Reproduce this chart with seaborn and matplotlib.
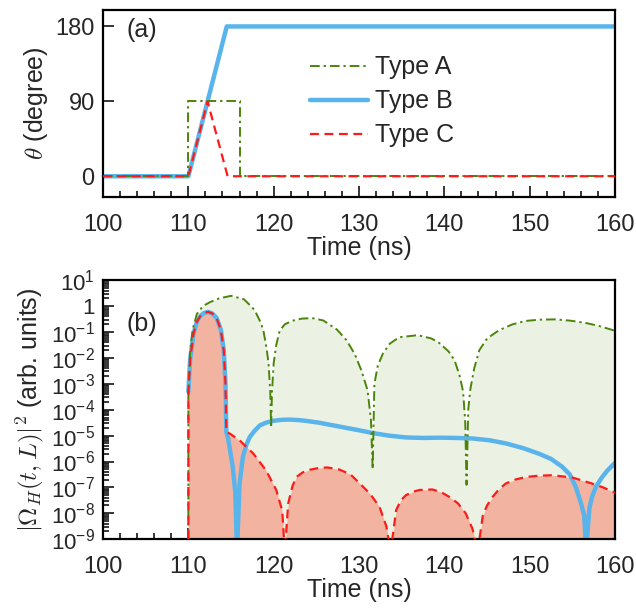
import numpy as np
import matplotlib
matplotlib.use("Agg")
import matplotlib.pyplot as plt
import matplotlib.ticker as mticker
import seaborn as sns

# ---------------- panel (a): mixing angle ----------------
tA = [100, 110, 110, 116, 116, 160]
thetaA = [0, 0, 90, 90, 0, 0]
tB = [100, 110, 114.5, 160]
thetaB = [0, 0, 180, 180]
tC = [100, 110, 112.25, 114.6, 160]
thetaC = [0, 0, 90, 0, 0]

# ---------------- panel (b): log10 |Omega_H|^2 ----------------
tA_b = [110.0, 110.0, 110.2, 110.5, 111.0, 111.7, 112.5, 113.6, 115.0, 116.5,
        117.5, 117.9, 118.5, 118.8, 119.2, 119.4, 119.6, 119.7, 119.8, 120.0,
        120.3, 120.7, 121.3, 122.2, 123.3, 124.5, 125.8, 127.4, 128.5, 129.5,
        130.3, 131.0, 131.4, 131.6, 131.8, 132.2, 132.8, 133.6, 134.7, 136.9,
        138.5, 139.4, 140.5, 141.2, 141.8, 142.2, 142.45, 142.6, 142.8, 143.05,
        143.5, 144.1, 145.0, 146.4, 148.0, 149.5, 151.2, 153.0, 154.8, 156.6,
        158.2, 160.0]
logA_b = [-9.0, -3.5, -1.8, -0.9, -0.3, 0.0, 0.15, 0.3, 0.40, 0.27,
          -0.05, -0.24, -0.65, -0.95, -1.7, -2.23, -3.3, -4.7, -3.3, -2.2,
          -1.5, -0.95, -0.7, -0.56, -0.48, -0.46, -0.55, -0.9, -1.3, -1.85,
          -2.5, -3.25, -4.4, -6.3, -3.0, -2.3, -1.83, -1.45, -1.2, -1.12,
          -1.25, -1.42, -1.75, -2.09, -2.7, -3.3, -4.5, -6.9, -4.0, -3.2,
          -2.4, -1.7, -1.25, -0.93, -0.7, -0.57, -0.52, -0.51, -0.56, -0.65,
          -0.77, -0.95]

tB_b = [110.0, 110.2, 110.6, 111.0, 111.4, 111.8, 112.3, 112.8, 113.3, 113.8,
        114.15, 114.35, 114.45, 114.65, 115.2, 115.5, 115.7, 116.0, 116.4, 116.8,
        117.2, 117.8, 118.4, 119.1, 119.9, 120.9, 121.9, 122.9, 123.8, 125.3,
        126.9, 128.5, 130.1, 131.6, 133.5, 135.5, 137.5, 139.4, 141.4, 143.3,
        145.3, 147.2, 149.2, 151.1, 152.5, 153.8, 154.7, 155.4, 156.0, 156.4,
        156.6, 157.0, 157.3, 157.8, 158.5, 159.1, 160.0]
logB_b = [-3.3, -2.09, -1.06, -0.6, -0.38, -0.27, -0.22, -0.28, -0.45, -0.9,
          -1.7, -3.0, -4.86, -5.1, -6.2, -7.2, -9.5, -6.85, -5.8, -5.35,
          -5.05, -4.8, -4.6, -4.5, -4.43, -4.39, -4.38, -4.4, -4.43, -4.5,
          -4.6, -4.7, -4.8, -4.9, -5.0, -5.07, -5.09, -5.08, -5.09, -5.11,
          -5.18, -5.3, -5.48, -5.7, -5.9, -6.2, -6.5, -6.98, -7.6, -8.1,
          -9.5, -7.8, -7.37, -6.95, -6.6, -6.35, -6.05]

tC_b = [110.0, 110.0, 110.2, 110.6, 111.0, 111.4, 111.8, 112.3, 112.8, 113.3,
        113.8, 114.15, 114.35, 114.45, 114.85, 116.0, 117.6, 119.1, 120.3, 121.0,
        121.3, 121.7, 122.2, 122.65, 123.4, 124.2, 125.3, 126.3, 127.7, 129.0,
        130.1, 131.3, 132.4, 133.2, 133.7, 134.35, 134.9, 135.5, 136.3, 137.1,
        138.6, 139.6, 140.6, 141.6, 142.5, 143.3, 143.9, 144.5, 145.0, 145.65,
        146.4, 147.2, 148.3, 149.5, 151.0, 152.65, 155.0, 157.3, 158.6, 160.0]
logC_b = [-9.0, -3.3, -2.09, -1.06, -0.6, -0.38, -0.27, -0.22, -0.28, -0.45,
          -0.9, -1.7, -3.0, -4.86, -4.92, -5.18, -5.69, -6.34, -7.1, -7.9,
          -9.5, -7.62, -6.95, -6.6, -6.42, -6.32, -6.25, -6.23, -6.31, -6.5,
          -6.85, -7.25, -7.75, -8.5, -9.5, -7.88, -7.5, -7.3, -7.17, -7.1,
          -7.08, -7.18, -7.37, -7.62, -8.0, -8.6, -9.5, -8.1, -7.7, -7.37,
          -7.07, -6.85, -6.7, -6.6, -6.55, -6.53, -6.62, -6.85, -7.0, -7.2]

GREEN = "#4a850a"
GREEN_FILL = "#ecf2e3"
BLUE = "#5ab4ec"
RED = "#ff1a1a"
RED_FILL = "#f2b4a0"

sns.set_style("white")
plt.rcParams["font.family"] = ["Liberation Sans", "DejaVu Sans"]
plt.rcParams["mathtext.fontset"] = "cm"
plt.rcParams["font.size"] = 18

fig = plt.figure(figsize=(6.36, 6.12), dpi=100)
ax1 = fig.add_axes([0.162, 0.678, 0.805, 0.306])
ax2 = fig.add_axes([0.162, 0.119, 0.805, 0.423])

dashdot = (0, (5, 2, 1.2, 2))
dashed = (0, (4, 2.5))

# ---- (a)
sns.lineplot(x=tA, y=thetaA, ax=ax1, color=GREEN, lw=1.4, linestyle=dashdot,
             estimator=None, sort=False, label="Type A", zorder=3)
sns.lineplot(x=tB, y=thetaB, ax=ax1, color=BLUE, lw=3.2,
             estimator=None, sort=False, label="Type B", zorder=2)
sns.lineplot(x=tC, y=thetaC, ax=ax1, color=RED, lw=1.6, linestyle=dashed,
             estimator=None, sort=False, label="Type C", zorder=4)
ax1.set_xlim(100, 160)
ax1.set_ylim(-25, 200)
ax1.set_yticks([0, 90, 180])
ax1.set_xlabel("Time (ns)", labelpad=0, fontsize=18)
ax1.set_ylabel(r"$\theta$ (degree)", labelpad=4, fontsize=18)
ax1.text(0.045, 0.89, "(a)", transform=ax1.transAxes, fontsize=18, va="center")
ax1.legend(loc="upper left", bbox_to_anchor=(0.385, 0.81), frameon=False,
           handlelength=2.3, handletextpad=0.3, labelspacing=0.4,
           borderaxespad=0, fontsize=18)

# ---- (b)
ax2.set_yscale("log")
yA = 10 ** np.array(logA_b)
yB = 10 ** np.array(logB_b)
yC = 10 ** np.array(logC_b)
ax2.fill_between(tA_b, yA, 1e-9, color=GREEN_FILL, lw=0, zorder=1)
ax2.fill_between(tC_b, yC, 1e-9, color=RED_FILL, lw=0, zorder=1.5)
sns.lineplot(x=tB_b, y=yB, ax=ax2, color=BLUE, lw=3.2,
             estimator=None, sort=False, zorder=2)
sns.lineplot(x=tA_b, y=yA, ax=ax2, color=GREEN, lw=1.4, linestyle=dashdot,
             estimator=None, sort=False, zorder=3)
sns.lineplot(x=tC_b, y=yC, ax=ax2, color=RED, lw=1.6, linestyle=dashed,
             estimator=None, sort=False, zorder=4)
ax2.set_xlim(100, 160)
ax2.set_ylim(1e-9, 1e1)
ax2.yaxis.set_major_locator(mticker.LogLocator(base=10, numticks=20))
ax2.yaxis.set_minor_locator(mticker.LogLocator(base=10, subs=np.arange(2, 10), numticks=20))


def log_fmt(v, pos):
    e = int(round(np.log10(v)))
    if e == 0:
        return "1"
    return r"$\mathregular{10^{%d}}$" % e


ax2.yaxis.set_major_formatter(mticker.FuncFormatter(log_fmt))
ax2.yaxis.set_minor_formatter(mticker.NullFormatter())
ax2.set_xlabel("Time (ns)", labelpad=0, fontsize=18)
ax2.set_ylabel(r"$|\Omega_H(t,L)|^2$ (arb. units)", labelpad=3, fontsize=18)
ax2.text(0.045, 0.83, "(b)", transform=ax2.transAxes, fontsize=18, va="center")

for ax in (ax1, ax2):
    ax.xaxis.set_major_locator(mticker.MultipleLocator(10))
    ax.xaxis.set_minor_locator(mticker.MultipleLocator(2))
    ax.tick_params(which="both", direction="in", width=1.3, labelsize=17,
                   top=False, right=False, bottom=True, left=True)
    ax.tick_params(axis="x", which="both", pad=12)
    ax.tick_params(axis="y", which="both", pad=6)
    ax.tick_params(which="major", length=8)
    ax.tick_params(which="minor", length=4)
    for s in ax.spines.values():
        s.set_linewidth(1.6)
        s.set_color("black")
ax1.yaxis.set_minor_locator(mticker.NullLocator())
ax2.tick_params(axis="y", which="both", labelsize=16)

fig.savefig("out.png", dpi=100)
